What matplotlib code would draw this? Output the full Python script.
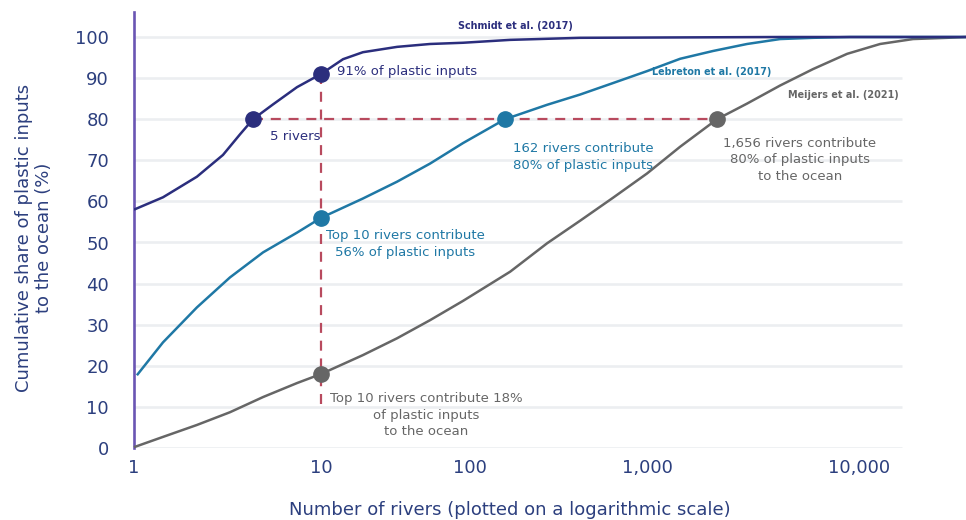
import numpy as np
import matplotlib
matplotlib.use("Agg")
import matplotlib.pyplot as plt
from matplotlib.ticker import NullLocator

plt.rcParams["font.family"] = ["DejaVu Sans"]

# ---- data -------------------------------------------------------------
schmidt_rivers = [1, 1.48, 2.34, 3.33, 4.19, 5, 6.13, 7.83, 10, 14.05, 19.1, 32.4, 53.9, 89.8,
                  173, 424, 3680, 32000]
schmidt_share = [58.0, 61.0, 66.0, 71.3, 76.3, 80, 83.6, 87.8, 91, 94.6, 96.3, 97.6, 98.3, 98.6,
                 99.3, 99.8, 100, 100]

lebreton_rivers = [1.04, 1.48, 2.34, 3.66, 5.54, 7.83, 10, 19.1, 32.4, 53.9, 89.8, 162, 277.5,
                   424, 647, 1000, 1269, 1609, 2421, 3680, 5585, 8925, 32000]
lebreton_share = [17.7, 25.7, 34.2, 41.5, 47.6, 52.4, 56, 60.7, 64.8, 69.2, 74.2, 80, 83.5,
                  86.0, 88.8, 91.7, 94.7, 96.6, 98.3, 99.5, 99.8, 100, 100]

meijers_rivers = [1, 1.48, 2.34, 3.66, 5.54, 7.83, 10, 19.1, 32.4, 53.9, 89.8, 173, 277.5, 424,
                  647, 1000, 1269, 1656, 2421, 3680, 5585, 8590, 12570, 17990, 26040, 32000]
meijers_share = [0.2, 2.7, 5.6, 8.7, 12.4, 15.8, 18, 22.6, 26.7, 31.1, 35.8, 42.9, 49.8, 55.3,
                 60.9, 66.8, 73.3, 80, 83.8, 88.2, 92.2, 95.9, 98.3, 99.5, 99.8, 100]

# highlighted points: (rivers, share)
schmidt_marks = [(5, 80), (10, 91)]
lebreton_marks = [(10, 56), (162, 80)]
meijers_marks = [(10, 18), (1656, 80)]

x_ticks = [1, 10, 100, 1000, 10000]
x_tick_labels = ["1", "10", "100", "1,000", "10,000"]
y_ticks = list(range(0, 101, 10))

# ---- styling ----------------------------------------------------------
NAVY = "#2b2e7d"
TEAL = "#1f78a5"
GREY = "#666666"
RED = "#b84a5e"
AXIS_TXT = "#2c3f7e"
AXIS_LINE = "#6a55b3"
GRID = "#eceef1"

W, H = 966, 520

# Number-of-rivers axis: logarithmic, with hand-set spacing between decades
KNOT_LOG = np.log10([1, 5, 10, 100, 162, 1000, 1656, 10000, 10 ** 4.6])
KNOT_POS = np.array([0, 119, 187, 336, 371, 513, 583, 725, 852], dtype=float)


def forward(x):
    x = np.clip(np.asarray(x, dtype=float), 1e-6, None)
    return np.interp(np.log10(x), KNOT_LOG, KNOT_POS)


def inverse(p):
    return 10 ** np.interp(np.asarray(p, dtype=float), KNOT_POS, KNOT_LOG)


fig = plt.figure(figsize=(W / 100, H / 100), dpi=100)
left, right, bottom, top = 134, 966, 448, 12
ax = fig.add_axes([left / W, 1 - bottom / H, (right - left) / W, (bottom - top) / H])

ax.set_xscale("function", functions=(forward, inverse))
ax.set_xlim(1, 10 ** 4.505)
ax.set_ylim(0, (bottom - top) / 4.11)

# gridlines (stop short of the right edge)
ax.hlines(y_ticks, 1, 16000, color=GRID, lw=1.9, zorder=1)

# curves
line_kw = dict(lw=1.8, solid_capstyle="butt", solid_joinstyle="round")
ax.plot(meijers_rivers, meijers_share, color=GREY, zorder=3, clip_on=False, **line_kw)
ax.plot(lebreton_rivers, lebreton_share, color=TEAL, zorder=3, **line_kw)
ax.plot(schmidt_rivers, schmidt_share, color=NAVY, zorder=4, **line_kw)

# reference lines
ax.plot([schmidt_marks[0][0], meijers_marks[1][0]], [80, 80], color=RED, lw=1.6,
        dashes=(4.5, 3.5), zorder=2)
ax.plot([10, 10], [schmidt_marks[1][1], 10.5], color=RED, lw=1.6, dashes=(4.5, 3.5), zorder=2)

for marks, col in ((schmidt_marks, NAVY), (lebreton_marks, TEAL), (meijers_marks, GREY)):
    xs, ys = zip(*marks)
    ax.plot(xs, ys, "o", color=col, ms=11, zorder=5, clip_on=False)

# axes
for s in ("top", "right", "bottom"):
    ax.spines[s].set_visible(False)
ax.spines["left"].set_color(AXIS_LINE)
ax.spines["left"].set_linewidth(1.9)
ax.set_xticks(x_ticks)
ax.set_xticklabels(x_tick_labels)
ax.xaxis.set_minor_locator(NullLocator())
ax.set_yticks(y_ticks)
ax.tick_params(axis="both", length=0, labelsize=13, labelcolor=AXIS_TXT)
ax.tick_params(axis="x", pad=8)
ax.tick_params(axis="y", pad=18)


def px(x, y):
    return x / W, 1 - y / H


fig.text(*px(510, 510), "Number of rivers (plotted on a logarithmic scale)", ha="center", va="center",
         fontsize=13, color=AXIS_TXT)
fig.text(*px(34, 238), "Cumulative share of plastic inputs\nto the ocean (%)", ha="center", va="center",
         rotation=90, fontsize=13, color=AXIS_TXT, linespacing=1.15)

# series names
NAME = 6.9
fig.text(*px(515, 26), "Schmidt et al. (2017)", ha="center", va="center", fontsize=NAME,
         fontweight="bold", color=NAVY)
fig.text(*px(712, 72), "Lebreton et al. (2017)", ha="center", va="center", fontsize=NAME,
         fontweight="bold", color=TEAL)
fig.text(*px(843, 95), "Meijers et al. (2021)", ha="center", va="center", fontsize=NAME,
         fontweight="bold", color=GREY)

# callouts
ANN = 9.5
fig.text(*px(337, 72), "91% of plastic inputs", ha="left", va="center", fontsize=ANN, color=NAVY)
fig.text(*px(270, 137), "5 rivers", ha="left", va="center", fontsize=ANN, color=NAVY)
fig.text(*px(405, 244), "Top 10 rivers contribute\n56% of plastic inputs", ha="center", va="center",
         fontsize=ANN, color=TEAL, linespacing=1.35)
fig.text(*px(583, 157), "162 rivers contribute\n80% of plastic inputs", ha="center", va="center",
         fontsize=ANN, color=TEAL, linespacing=1.35)
fig.text(*px(800, 160), "1,656 rivers contribute\n80% of plastic inputs\nto the ocean", ha="center",
         va="center", fontsize=ANN, color=GREY, linespacing=1.35)
fig.text(*px(426, 415), "Top 10 rivers contribute 18%\nof plastic inputs\nto the ocean", ha="center",
         va="center", fontsize=ANN, color=GREY, linespacing=1.35)

fig.savefig("out.png", dpi=100)
